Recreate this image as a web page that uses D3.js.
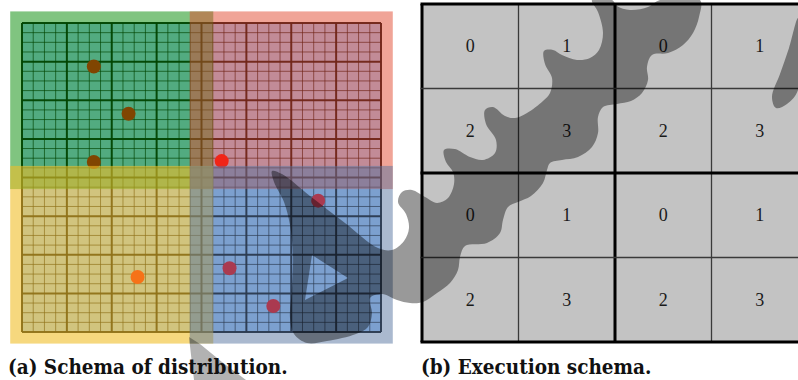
<!DOCTYPE html>
<html>
<head>
<meta charset="utf-8">
<script src="https://cdn.jsdelivr.net/npm/d3@7"></script>
<style>
  html, body { margin: 0; padding: 0; background: #fff; }
  svg { display: block; }
</style>
</head>
<body>
<svg id="fig" width="798" height="380"></svg>
<script>
// ---- (a) distribution: 32x32 fine cells, grouped in 4x4 blocks, four overlapping zones
const gridCells = 32;
const blockSize = 4;
const zoneNames = ["P0", "P1", "P2", "P3"];
const zoneColors = ["#028a02", "#e14a30", "#f0be28", "#5573a0"];
const zoneAlpha = [0.5, 0.5, 0.6, 0.5];
const particleCol = [6.4, 9.5, 6.4, 17.8, 10.3, 26.4, 18.5, 22.4];
const particleRow = [4.5, 9.4, 14.4, 14.3, 26.3, 18.4, 25.4, 29.3];

// ---- (b) execution: 2x2 blocks, each holding threads 0..3
const blockRows = [0, 1];
const blockCols = [0, 1];
const threadIds = [0, 1, 2, 3];

const captions = ["(a) Schema of distribution.", "(b) Execution schema."];

// brush stroke laid over both panels
const inkMain = [
  [592,0],[598,12],[603,33],[599,50],[590,58],[577,60],[562,55],[553,50],[544,51],[545,64],
  [552,78],[550,93],[543,101],[527,113],[515,118],[505,116],[493,107],[485,110],[486,124],
  [496,140],[495,153],[483,160],[470,157],[455,149],[444,150],[446,162],[453,172],[454,184],
  [448,198],[437,203],[425,197],[412,190],[402,192],[398,202],[406,214],[409,228],[404,241],
  [392,250],[378,248],[345,223],[310,196],[282,174],[272,171],[274,182],[284,202],[290,225],
  [293,255],[292,288],[290,318],[294,334],[307,343],[327,341],[356,334],[368,327],[372,313],
  [370,298],[382,294],[397,300],[410,303],[423,302],[437,293],[450,283],[458,270],[460,257],
  [465,246],[487,243],[500,233],[503,220],[508,207],[518,202],[531,196],[543,183],[547,170],
  [550,163],[562,160],[578,157],[592,147],[598,133],[598,117],[603,107],[617,104],[631,101],
  [642,93],[648,80],[647,67],[652,55],[668,53],[683,45],[693,33],[699,17],[700,0],[660,0],
  [648,7],[630,10],[617,6],[612,0]
];
const inkHole = [[312,255],[348,278],[305,300]];
const inkRight = [[798,18],[789,48],[780,74],[772,97],[776,108],[787,104],[798,90]];
const inkTail = [[189,337],[200,344],[222,362],[246,380],[194,380],[191,355]];

const svg = d3.select("#fig");

// ---------------- panel (a)
const gx = d3.scaleLinear().domain([0, gridCells]).range([22, 381]);
const gy = d3.scaleLinear().domain([0, gridCells]).range([23, 332]);
const pa = svg.append("g");

pa.append("rect")
  .attr("x", gx(0)).attr("y", gy(0))
  .attr("width", gx(gridCells) - gx(0)).attr("height", gy(gridCells) - gy(0))
  .attr("fill", "#a2ccff");

const lines = d3.range(gridCells + 1);
pa.selectAll("line.v").data(lines).join("line")
  .attr("x1", d => gx(d)).attr("x2", d => gx(d))
  .attr("y1", gy(0)).attr("y2", gy(gridCells))
  .attr("stroke", "#000")
  .attr("stroke-width", d => d % blockSize === 0 ? 2 : 0.9)
  .attr("stroke-opacity", d => d % blockSize === 0 ? 0.95 : 0.75);
pa.selectAll("line.h").data(lines).join("line")
  .attr("y1", d => gy(d)).attr("y2", d => gy(d))
  .attr("x1", gx(0)).attr("x2", gx(gridCells))
  .attr("stroke", "#000")
  .attr("stroke-width", d => d % blockSize === 0 ? 2 : 0.9)
  .attr("stroke-opacity", d => d % blockSize === 0 ? 0.95 : 0.75);

pa.selectAll("circle").data(particleCol).join("circle")
  .attr("cx", d => gx(d))
  .attr("cy", (d, i) => gy(particleRow[i]))
  .attr("r", 7)
  .attr("fill", "#ff0000");

// each zone covers half the grid plus a halo of about one cell
const half = gridCells / 2, haloX = 1.05, haloY = 1.2;
pa.selectAll("rect.zone").data(zoneNames).join("rect")
  .attr("class", "zone")
  .attr("x", (d, i) => gx((i % 2) * half - haloX))
  .attr("y", (d, i) => gy(Math.floor(i / 2) * half - haloY))
  .attr("width", gx(half + 2 * haloX) - gx(0))
  .attr("height", gy(half + 2 * haloY) - gy(0))
  .attr("fill", (d, i) => zoneColors[i])
  .attr("fill-opacity", (d, i) => zoneAlpha[i]);

// ---------------- panel (b)
const tx = d3.scaleLinear().domain([0, 4]).range([422, 808]);
const ty = d3.scaleLinear().domain([0, 4]).range([4, 342]);
const pb = svg.append("g");

const cells = [];
blockRows.forEach(br => blockCols.forEach(bc => threadIds.forEach(t => {
  cells.push({ col: 2 * bc + (t % 2), row: 2 * br + Math.floor(t / 2), id: t });
})));

pb.selectAll("rect").data(cells).join("rect")
  .attr("x", d => tx(d.col)).attr("y", d => ty(d.row))
  .attr("width", tx(1) - tx(0)).attr("height", ty(1) - ty(0))
  .attr("fill", "#c3c3c3");

const edges = d3.range(5);
pb.selectAll("line.v").data(edges).join("line")
  .attr("x1", d => tx(d)).attr("x2", d => tx(d))
  .attr("y1", ty(0)).attr("y2", ty(4))
  .attr("stroke", d => d % 2 === 0 ? "#000" : "#3a3a3a")
  .attr("stroke-width", d => d % 2 === 0 ? 3 : 1.3);
pb.selectAll("line.h").data(edges).join("line")
  .attr("y1", d => ty(d)).attr("y2", d => ty(d))
  .attr("x1", tx(0) - 1.5).attr("x2", tx(4))
  .attr("stroke", d => d % 2 === 0 ? "#000" : "#3a3a3a")
  .attr("stroke-width", d => d % 2 === 0 ? 3 : 1.3);

pb.selectAll("text").data(cells).join("text")
  .attr("x", d => tx(d.col + 0.5))
  .attr("y", d => ty(d.row + 0.5))
  .attr("text-anchor", "middle")
  .attr("dominant-baseline", "central")
  .attr("font-family", "'Liberation Serif', 'Times New Roman', serif")
  .attr("font-size", 18)
  .attr("fill", "#1a1a1a")
  .text(d => d.id);

// ---------------- brush stroke
const closed = d3.line().curve(d3.curveCatmullRomClosed.alpha(0.5));
const straight = d3.line().curve(d3.curveLinearClosed);
svg.append("path")
  .attr("d", closed(inkMain) + straight(inkHole) + closed(inkRight))
  .attr("fill", "#000")
  .attr("fill-opacity", 0.4)
  .attr("fill-rule", "evenodd");
svg.append("path")
  .attr("d", straight(inkTail))
  .attr("fill", "#000")
  .attr("fill-opacity", 0.3);

// ---------------- captions
svg.selectAll("text.cap").data(captions).join("text")
  .attr("class", "cap")
  .attr("x", (d, i) => i === 0 ? 8 : 421)
  .attr("y", 374)
  .attr("font-family", "'DejaVu Serif Condensed', 'DejaVu Serif', serif")
  .attr("font-weight", "bold")
  .attr("font-size", 20.5)
  .attr("fill", "#111")
  .text(d => d);
</script>
</body>
</html>
